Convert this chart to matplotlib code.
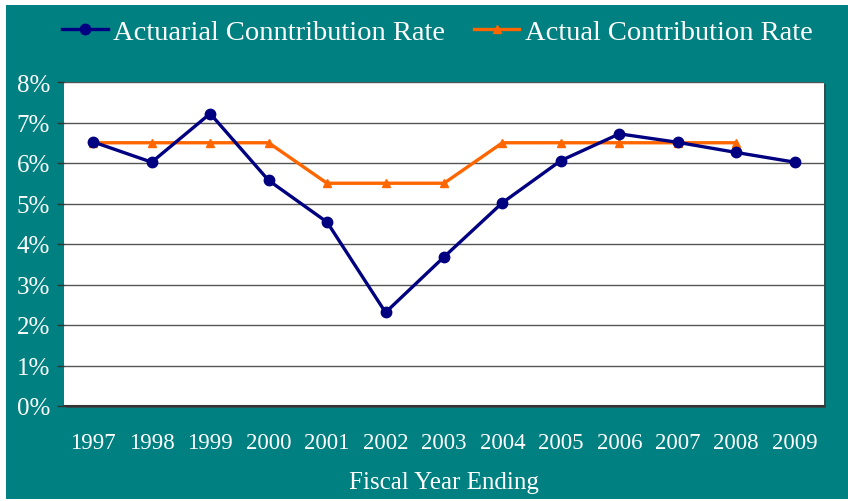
import numpy as np
import matplotlib
matplotlib.use('Agg')
import matplotlib.pyplot as plt
from matplotlib.patches import Rectangle

years = ['1997', '1998', '1999', '2000', '2001', '2002', '2003',
         '2004', '2005', '2006', '2007', '2008', '2009']
actuarial = [6.52, 6.02, 7.22, 5.57, 4.54, 2.31, 3.68,
             5.02, 6.06, 6.72, 6.51, 6.26, 6.02]
actual = [6.5, 6.5, 6.5, 6.5, 5.5, 5.5, 5.5,
          6.5, 6.5, 6.5, 6.5, 6.5]
yticks = [0, 1, 2, 3, 4, 5, 6, 7, 8]

teal = '#008080'
navy = '#000080'
orange = '#FF6600'

plt.rcParams['font.family'] = ['Liberation Serif', 'DejaVu Serif']

W, H = 848, 502
fig = plt.figure(figsize=(W / 100, H / 100), dpi=100)
fig.patch.set_facecolor('white')

# teal panel behind everything
fig.patches.append(Rectangle((6 / W, 2 / H), 1 - 6 / W, 1 - 8 / H,
                             transform=fig.transFigure, facecolor=teal,
                             edgecolor='none', zorder=-2))

left, right, top, bottom = 64, 824, 83, 407
# little drop shadow of the plot area
fig.patches.append(Rectangle(((left + 2) / W, 1 - (bottom + 2) / H),
                             (right - left) / W, (bottom - top) / H,
                             transform=fig.transFigure, facecolor='#2f4f4f',
                             edgecolor='none', zorder=-1))

ax = fig.add_axes([left / W, 1 - bottom / H, (right - left) / W, (bottom - top) / H])
ax.set_zorder(2)
ax.set_facecolor('white')

x = np.arange(len(years))
ax.plot(x, actuarial, color=navy, lw=2.4, marker='o', ms=7.5,
        label='Actuarial Conntribution Rate', zorder=3)
ax.plot(x[:len(actual)], actual, color=orange, lw=2.4, marker='^', ms=5.5,
        label='Actual Contribution Rate', zorder=2)

ax.set_xlim(-0.5, len(years) - 0.5)
ax.set_ylim(0, 8)
ax.set_yticks(yticks)
ax.set_yticklabels([f'{v}%' for v in yticks])
ax.set_xticks(x)
ax.set_xticklabels(years)
ax.yaxis.grid(True, color='#555555', lw=1)
ax.set_axisbelow(True)

for s in ['top', 'right', 'left']:
    ax.spines[s].set_visible(False)
ax.spines['bottom'].set_color('#333333')
ax.spines['bottom'].set_linewidth(1.5)

ax.tick_params(axis='y', colors='white', labelsize=18, length=5, width=1,
               pad=5)
ax.tick_params(axis='y', color='#333333')
ax.tick_params(axis='x', colors='white', labelsize=16.5, length=0, pad=19)
ax.set_xlabel('Fiscal Year Ending', color='white', fontsize=18, labelpad=13)

fig.legend(loc='center', bbox_to_anchor=(0.516, 1 - 33 / H), ncol=2,
           frameon=False, fontsize=20.5, labelcolor='white',
           handlelength=1.6, handletextpad=0.2, columnspacing=1.0)

fig.savefig('out.png', dpi=100, facecolor=fig.get_facecolor())
